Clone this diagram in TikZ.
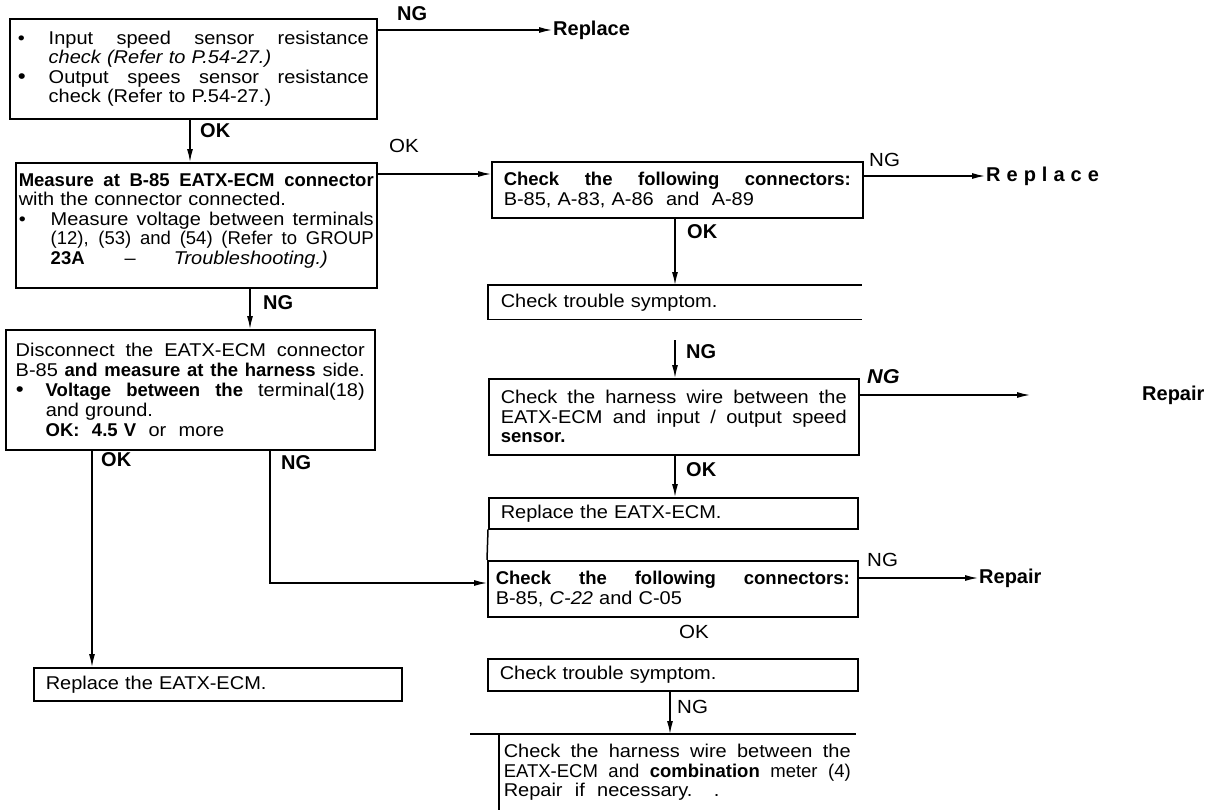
\documentclass[tikz,border=0pt]{standalone}
\usepackage{fontspec}
\setmainfont[FakeStretch=1.08, BoldFeatures={FakeStretch=1.0}]{Liberation Sans}
\newfontfamily\narrowfont{Liberation Sans}
\usetikzlibrary{arrows.meta}
\newlength\bw
\newcommand\sline[2]{\leavevmode\hbox to #1{\spaceskip=0.28em plus 1fil\relax #2}}
\newcommand\jl[1]{\sline{\bw}{#1}}
\newcommand\il[2]{\leavevmode\hbox to \bw{\hspace*{#1}\sline{\dimexpr\bw-#1\relax}{#2}}}
\newcommand\bl[2]{\leavevmode\hbox to \bw{\makebox[#1][l]{\textbullet}\sline{\dimexpr\bw-#1\relax}{#2}}}
\newcommand\bigbul{{\fontsize{21}{21}\selectfont\textbullet}}
\newcommand\bbl[2]{\leavevmode\hbox to \bw{\makebox[#1][l]{\bigbul}\sline{\dimexpr\bw-#1\relax}{#2}}}
\begin{document}
\begin{tikzpicture}[x=1pt,y=-1pt,
 box/.style={draw, line width=1.5pt, anchor=north west, inner ysep=2pt, align=left,
   font=\fontsize{18.5}{19.5}\selectfont, text width=#1,
   execute at begin node={\setlength{\bw}{#1}}},
 obox/.style={box=#1, draw=none},
 edge/.style={line width=1.5pt},
 arr/.style={line width=1.3pt, -{Latex[length=13pt,width=6pt]}},
 lab/.style={font=\fontsize{19}{20}\selectfont, inner sep=1pt},
 labb/.style={font=\fontsize{20}{21}\selectfont\bfseries, inner sep=1pt},
]
\useasboundingbox (0,0) rectangle (1205,809);

% left column
\node[box=351pt, inner xsep=8pt, minimum height=100pt] (b1) at (9,18) {%
\bl{31pt}{Input speed sensor resistance}\\
\hspace*{31pt}\textit{check (Refer to P.54-27.)}\\
\bbl{31pt}{Output spees sensor resistance}\\
\hspace*{31pt}check (Refer to P.54-27.)};

\node[box=355pt, inner xsep=3pt, minimum height=125pt] (b2) at (15,162) {%
\textbf{\jl{Measure at B-85 EATX-ECM connector}}\\
with the connector connected.\\
\bl{32pt}{Measure voltage between terminals}\\
\il{32pt}{\narrowfont (12), (53) and (54) (Refer to GROUP}\\
\hspace*{32pt}\textbf{23A}\hspace*{40pt}–\hspace*{38pt}\textit{Troubleshooting.)}\\[-7pt]\mbox{}};

\node[box=349pt, inner xsep=10pt, minimum height=120pt, font=\fontsize{18.5}{20}\selectfont] (b3) at (5,329) {%
\jl{Disconnect the EATX-ECM connector}\\
\jl{B-85 \textbf{and measure at the harness} side.}\\
\bbl{30pt}{\textbf{Voltage between the} terminal(18)}\\
\hspace*{30pt}and ground.\\
\hspace*{30pt}\textbf{OK:} \ \textbf{4.5 V} \ or \ more};

\node[box=344pt, inner xsep=12pt, minimum height=33pt] (lb) at (33,667) {Replace the EATX-ECM.};

% right column
\node[box=347pt, inner xsep=12pt, minimum height=56pt] (r1) at (491,161) {%
\textbf{\jl{Check the following connectors:}}\\
B-85, A-83, A-86 \ and \ A-89};

\node[obox=348pt, inner xsep=12pt, minimum height=33pt] (r2) at (488,285) {Check trouble symptom.};
\draw[edge] (r2.north east) -- (r2.north west) -- (r2.south west) -- (r2.south east);

\node[box=346pt, inner xsep=12pt, minimum height=76pt] (r3) at (488,378) {%
\jl{Check the harness wire between the}\\
\jl{EATX-ECM and input / output speed}\\
\textbf{sensor.}};

\node[box=345pt, inner xsep=12pt, minimum height=31pt] (r4) at (488,497) {Replace the EATX-ECM.};

\node[box=354pt, inner xsep=8pt, minimum height=56pt] (r5) at (487,560) {%
\textbf{\jl{Check the following connectors:}}\\
B-85, \textit{C-22} and C-05};
\draw[edge] (r4.south west) -- (r5.north west);

\node[box=346pt, inner xsep=12pt, minimum height=32pt] (r6) at (487,658) {Check trouble symptom.};

\node[obox=347pt, inner xsep=4pt, minimum height=75pt] (r7) at (499,734) {%
\jl{Check the harness wire between the}\\
\jl{\narrowfont EATX-ECM and \textbf{combination} meter (4)}\\
Repair \ if \ necessary. \ \ .};
\draw[edge] ([xshift=-29pt]r7.north west) -- (r7.north east);
\draw[edge] (r7.north west) -- (r7.south west);

% labels
\node[labb, anchor=base west] (ng1) at (396,20) {NG};
\node[labb, anchor=west] (rep1) at (552,30) {Replace};
\node[labb, anchor=west] (ok1) at (199,131) {OK};
\node[lab, anchor=west] (ok2) at (388,146) {OK};
\node[labb, anchor=west] (ng2) at (262,303) {NG};
\node[labb, anchor=west] (ok3) at (100,460) {OK};
\node[labb, anchor=west] (ng3) at (280,463) {NG};
\node[lab, anchor=west] (ng4) at (868,160) {NG};
\node[labb, anchor=west] (rep2) at (985,176) {\addfontfeature{LetterSpace=30}Replace};
\node[labb, anchor=west] (ok4) at (686,232) {OK};
\node[labb, anchor=west] (ng5) at (685,352) {NG};
\node[labb, anchor=west] (ng6) at (866,377) {\itshape NG};
\node[labb, anchor=west] (rep3) at (1141,395) {Repair};
\node[labb, anchor=west] (ok5) at (685,470) {OK};
\node[lab, anchor=west] (ng7) at (866,560) {NG};
\node[labb, anchor=west] (rep4) at (978,578) {Repair};
\node[lab] (ok6) at (694,632) {OK};
\node[lab, anchor=west] (ng8) at (676,707) {NG};

\coordinate (s3) at (675,340);
\coordinate (e3) at (1030,395);

% connectors
\draw[arr] (b1.east |- rep1.west) -- (rep1.west);
\draw[arr] (b1.south -| 190,0) -- (b2.north -| 190,0);
\draw[arr] (b2.east |- 0,174) -- (r1.west |- 0,174);
\draw[arr] (b2.south -| 250,0) -- (b3.north -| 250,0);
\draw[arr] (b3.south -| 92,0) -- (lb.north -| 92,0);
\draw[arr] (b3.south -| 270,0) |- (r5.west |- 0,583);
\draw[arr] (r1.east |- rep2.west) -- (rep2.west);
\draw[arr] (r1.south -| 675,0) -- (r2.north -| 675,0);
\draw[arr] (s3) -- (r3.north -| s3);
\draw[arr] (r3.east |- e3) -- (e3);
\draw[arr] (r3.south -| 675,0) -- (r4.north -| 675,0);
\draw[arr] (r5.east |- rep4.west) -- (rep4.west);
\draw[arr] (r6.south -| 670,0) -- (r7.north -| 670,0);
\end{tikzpicture}
\end{document}
